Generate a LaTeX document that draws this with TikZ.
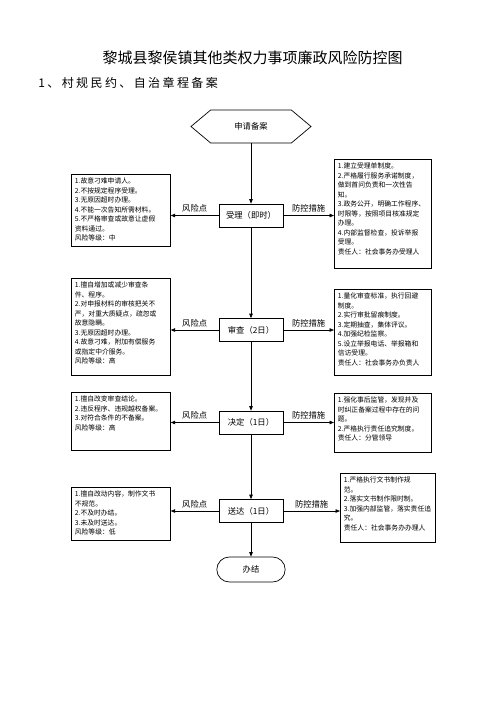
\documentclass[tikz,border=0pt]{standalone}
\usepackage{fontspec}
\setmainfont{Noto Sans CJK SC}
\newfontfamily\subfont[LetterSpace=20]{Noto Sans CJK SC}
\usetikzlibrary{arrows.meta,shapes.symbols,shapes.misc}
\newcommand\bxt[3]{\parbox[t][#1][t]{#2}{\raggedright #3}}
\begin{document}
\begin{tikzpicture}[x=1pt,y=-1pt,
  line width=0.7pt,
  arr/.style={-{Triangle[length=4.5pt,width=3.5pt]}},
  stagebox/.style={draw, minimum width=64pt, minimum height=23pt, inner sep=1pt, font=\fontsize{8.3}{10}\selectfont},
  riskbox/.style={draw, anchor=north west, inner xsep=3.5pt, inner ysep=3.5pt, font=\fontsize{6.8}{9.5}\selectfont},
  lbl/.style={font=\fontsize{8.3}{10}\selectfont, above=1.5pt, midway, inner sep=1pt}]
\useasboundingbox (0,0) rectangle (496,702);
\fill[white] (0,0) rectangle (496,702);

\node[font=\fontsize{15}{18}\selectfont] (title) at (252.5,58) {黎城县黎侯镇其他类权力事项廉政风险防控图};
\node[anchor=west, inner sep=0pt, font=\fontsize{12}{14}\subfont] (sub) at (38,83) {1、村规民约、自治章程备案};

\node[draw, signal, signal to=east and west, signal pointer angle=80, minimum width=120pt, minimum height=33pt, inner sep=1pt, font=\fontsize{8.3}{10}\selectfont] (start) at (251,126.5) {申请备案};

\node[stagebox] (s1) at (251,215.5) {受理（即时）};
\node[stagebox] (s2) at (251,330) {审查（2日）};
\node[stagebox] (s3) at (251,422.5) {决定（1日）};
\node[stagebox] (s4) at (251,511) {送达（1日）};
\node[draw, rounded rectangle, minimum width=75pt, minimum height=25pt, font=\fontsize{8.3}{10}\selectfont] (end) at (251,569.5) {办结};

% risk boxes (left)
\node[riskbox] (r1) at (71,174) {\bxt{65pt}{92pt}{1.故意刁难申请人。\\2.不按规定程序受理。\\3.无原因超时办理。\\4.不能一次告知所需材料。\\5.不严格审查或故意让虚假\\资料通过。\\风险等级：中}};
\node[riskbox] (r2) at (71,278) {\bxt{90pt}{92pt}{1.擅自增加或减少审查条\\件、程序。\\2.对申报材料的审核把关不\\严，对重大质疑点，疏忽或\\故意隐瞒。\\3.无原因超时办理。\\4.故意刁难，附加有偿服务\\或指定中介服务。\\风险等级：高}};
\node[riskbox] (r3) at (71,392) {\bxt{51pt}{92pt}{1.擅自改变审查结论。\\2.违反程序、违规越权备案。\\3.对符合条件的不备案。\\风险等级：高}};
\node[riskbox] (r4) at (71,487) {\bxt{46pt}{92pt}{1.擅自改动内容，制作文书\\不规范。\\2.不及时办结。\\3.未及时送达。\\风险等级：低}};

% measure boxes (right)
\node[riskbox] (q1) at (334,159) {\bxt{102pt}{90pt}{1.建立受理单制度。\\2.严格履行服务承诺制度，\\做到首问负责和一次性告\\知。\\3.政务公开，明确工作程序、\\时限等，按照项目核准规定\\办理。\\4.内部监督检查，投诉举报\\受理。\\责任人：社会事务办受理人}};
\node[riskbox] (q2) at (334,289) {\bxt{79pt}{90pt}{1.量化审查标准，执行回避\\制度。\\2.实行审批留痕制度。\\3.定期抽查，集体评议。\\4.加强纪检监察。\\5.设立举报电话、举报箱和\\信访受理。\\责任人：社会事务办负责人}};
\node[riskbox] (q3) at (334,393) {\bxt{52pt}{90pt}{1.强化事后监管，发现并及\\时纠正备案过程中存在的问\\题。\\2.严格执行责任追究制度。\\责任人：分管领导}};
\node[riskbox] (q4) at (340,473) {\bxt{62pt}{88pt}{1.严格执行文书制作规\\范。\\2.落实文书制作限时制。\\3.加强内部监管，落实责任追\\究。\\责任人：社会事务办办理人}};

% vertical flow
\draw[arr] (start.south) -- (s1.north);
\draw[arr] (s1.south) -- (s2.north);
\draw[arr] (s2.south) -- (s3.north);
\draw[arr] (s3.south) -- (s4.north);
\draw[arr] (s4.south) -- (end.north);

% horizontal arrows
\draw[arr] (s1.west) -- (s1.west -| r1.east) node[lbl] (k1) {风险点};
\draw[arr] (s2.west) -- (s2.west -| r2.east) node[lbl] (k2) {风险点};
\draw[arr] (s3.west) -- (s3.west -| r3.east) node[lbl] (k3) {风险点};
\draw[arr] (s4.west) -- (s4.west -| r4.east) node[lbl] (k4) {风险点};
\draw[arr] (s1.east) -- (s1.east -| q1.west) node[lbl] (m1) {防控措施};
\draw[arr] (s2.east) -- (s2.east -| q2.west) node[lbl] (m2) {防控措施};
\draw[arr] (s3.east) -- (s3.east -| q3.west) node[lbl] (m3) {防控措施};
\draw[arr] (s4.east) -- (s4.east -| q4.west) node[lbl] (m4) {防控措施};
\end{tikzpicture}
\end{document}
